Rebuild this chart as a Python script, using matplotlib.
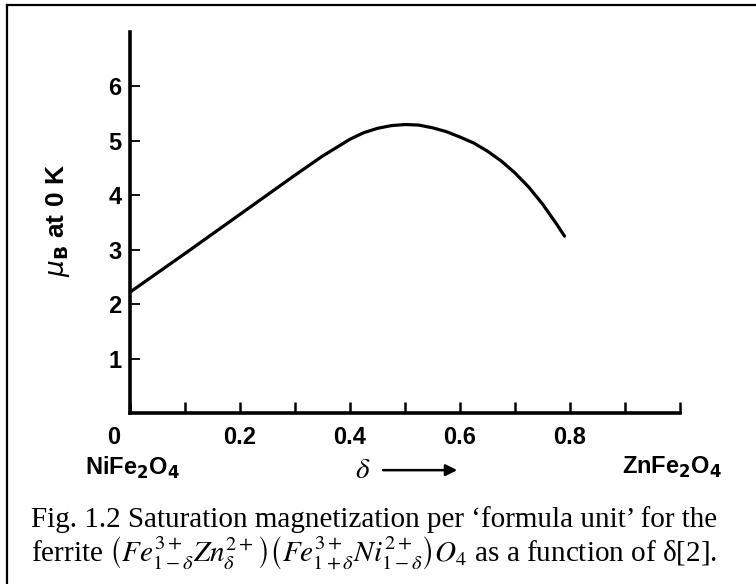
import numpy as np
import matplotlib.pyplot as plt
from matplotlib.lines import Line2D
import matplotlib.transforms as mtransforms

plt.rcParams['font.family'] = ['Liberation Sans', 'DejaVu Sans']
plt.rcParams['mathtext.fontset'] = 'stix'

# delta (Zn content) and saturation moment in Bohr magnetons per formula unit
delta = [0.0, 0.1, 0.2, 0.3, 0.35, 0.4, 0.425, 0.45, 0.475, 0.5, 0.525, 0.55,
         0.575, 0.6, 0.625, 0.65, 0.675, 0.7, 0.725, 0.75, 0.775, 0.79]
moment = [2.22, 2.93, 3.65, 4.37, 4.72, 5.03, 5.15, 5.23, 5.28, 5.30, 5.29, 5.24,
          5.17, 5.07, 4.96, 4.81, 4.63, 4.41, 4.15, 3.84, 3.48, 3.25]

xticks = [0, 0.1, 0.2, 0.3, 0.4, 0.5, 0.6, 0.7, 0.8, 0.9, 1.0]
xlabels = ['0', '', '0.2', '', '0.4', '', '0.6', '', '0.8', '', '']
yticks = [1, 2, 3, 4, 5, 6]

fig = plt.figure(figsize=(7.56, 5.84), dpi=100)
ax = fig.add_axes([130/756, 1-413/584, 550/756, 381/584])

ax.plot(delta, moment, color='black', lw=2.3, solid_capstyle='round')

ax.set_xlim(0, 1.0)
ax.set_ylim(0, 7.0)
ax.spines['top'].set_visible(False)
ax.spines['right'].set_visible(False)
ax.spines['left'].set_linewidth(2.6)
ax.spines['bottom'].set_linewidth(2.6)

ax.set_xticks(xticks)
ax.set_xticklabels(xlabels)
ax.set_yticks(yticks)
ax.tick_params(axis='x', direction='in', length=8, width=1.8, labelsize=17, pad=9)
ax.tick_params(axis='y', direction='in', length=7, width=1.3, labelsize=17, pad=6)
for lab in ax.get_xticklabels() + ax.get_yticklabels():
    lab.set_fontweight('bold')

# the "0" label sits left of the axis in the original
lab0 = ax.get_xticklabels()[0]
lab0.set_transform(lab0.get_transform() + mtransforms.ScaledTranslation(-16/100, 0, fig.dpi_scale_trans))

ax.set_ylabel(r'$\mu_\mathbf{B}$ at 0 K', fontsize=19, fontweight='bold',
              math_fontfamily='dejavusans')
ax.yaxis.set_label_coords(-0.105, 0.505)

ax.text(0.005, -1.0, r'NiFe$_\mathbf{2}$O$_\mathbf{4}$', fontsize=17, fontweight='bold',
        math_fontfamily='dejavusans', ha='center', va='center')
ax.text(0.985, -1.0, r'ZnFe$_\mathbf{2}$O$_\mathbf{4}$', fontsize=17, fontweight='bold',
        math_fontfamily='dejavusans', ha='center', va='center')
ax.text(0.424, -1.05, r'$\delta$', fontsize=21, ha='center', va='center')
ax.annotate('', xy=(0.60, -1.05), xytext=(0.455, -1.05),
            arrowprops=dict(arrowstyle='-|>', color='black', lw=1.8, mutation_scale=17),
            annotation_clip=False)

# caption
fig.text(31/756, 1-520/584,
         'Fig. 1.2 Saturation magnetization per \u2018formula unit\u2019 for the',
         family='Liberation Serif', fontsize=21, ha='left', va='center')
fig.text(31/756, 1-553/584,
         r'ferrite $\left(Fe^{3+}_{1-\delta}Zn^{2+}_{\delta}\right)\left(Fe^{3+}_{1+\delta}Ni^{2+}_{1-\delta}\right)O_4$'
         + ' as a function of \u03b4[2].',
         family='Liberation Serif', fontsize=21, ha='left', va='center')

# frame lines from the scanned page
fig.add_artist(Line2D([7/756, 7/756], [0, 1-5/584], color='black', lw=1.6))
fig.add_artist(Line2D([7/756, 1], [1-5/584, 1-5/584], color='black', lw=1.6))

fig.savefig('out.png', dpi=100, facecolor='white')
